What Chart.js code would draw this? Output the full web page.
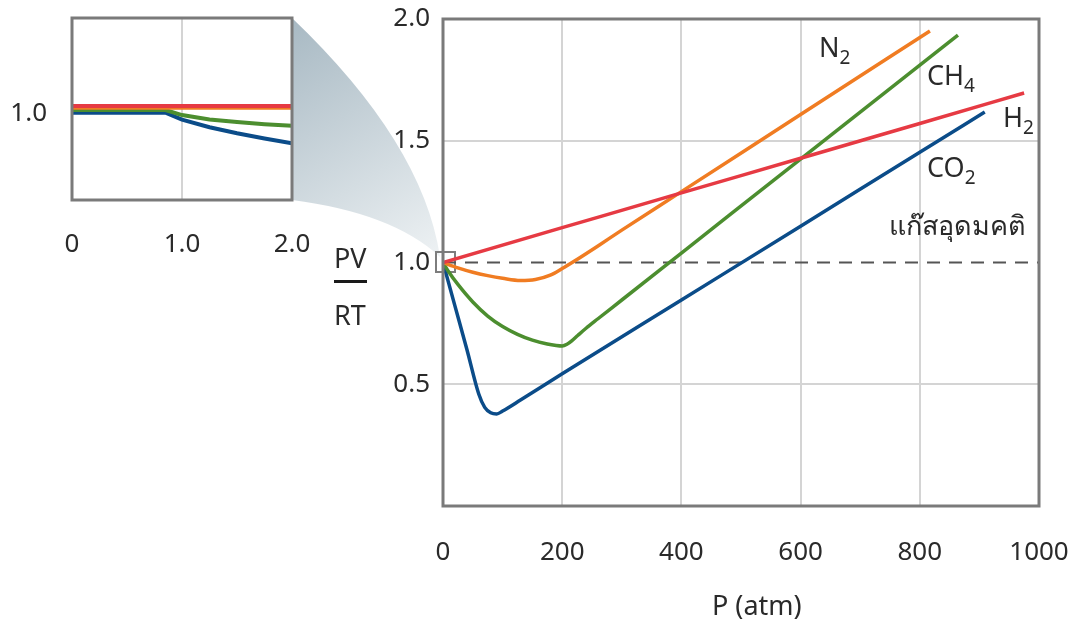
<!DOCTYPE html>
<html>
<head>
<meta charset="utf-8">
<script src="https://cdn.jsdelivr.net/npm/chart.js@4.4.1/dist/chart.umd.min.js"></script>
<style>
  html, body { margin: 0; padding: 0; background: #ffffff; }
  #stage {
    position: relative; width: 1073px; height: 624px; overflow: hidden;
    font-family: "Noto Sans", "DejaVu Sans", sans-serif; color: #2a2a2a;
  }
  #stage canvas, #stage svg { position: absolute; left: 0; top: 0; }
  .lbl { position: absolute; font-size: 27px; line-height: 1; white-space: nowrap; }
  .lbl sub { font-size: 19px; vertical-align: -7px; line-height: 0; }
  #fracbar { position: absolute; left: 334px; top: 280px; width: 33px; height: 3px; background: #1a1a1a; }
  #marker { position: absolute; left: 435px; top: 251px; width: 17px; height: 18px; border: 2px solid #7d7d7d; }
</style>
</head>
<body>
<div id="stage">
  <svg width="1073" height="624">
    <defs>
      <linearGradient id="wedgeFill" x1="300" y1="20" x2="440" y2="258" gradientUnits="userSpaceOnUse">
        <stop offset="0" stop-color="#a9bac4"/>
        <stop offset="1" stop-color="#eef2f4"/>
      </linearGradient>
    </defs>
    <path d="M292,18 Q423,143 440,257 Q393,213 292,200 Z" fill="url(#wedgeFill)"/>
  </svg>
  <div id="marker"></div>
  <canvas id="mainChart" width="1073" height="624"></canvas>
  <canvas id="insetChart" width="320" height="270"></canvas>

  <div class="lbl" style="left:819px;top:33px">N<sub>2</sub></div>
  <div class="lbl" style="left:927px;top:61px">CH<sub>4</sub></div>
  <div class="lbl" style="left:1003px;top:103px">H<sub>2</sub></div>
  <div class="lbl" style="left:927px;top:153px">CO<sub>2</sub></div>
  <div class="lbl" style="left:889px;top:211px">แก๊สอุดมคติ</div>
  <div class="lbl" style="left:334px;top:244px">PV</div>
  <div id="fracbar"></div>
  <div class="lbl" style="left:334px;top:301px">RT</div>
  <div class="lbl" style="left:712px;top:591px">P (atm)</div>
</div>

<script>
// Compressibility factor PV/RT versus pressure (atm)
const h2Pressure  = [0, 200, 400, 600, 800, 975];
const h2Z         = [1.0, 1.143, 1.286, 1.428, 1.571, 1.696];

const n2Pressure  = [0, 25, 50, 75, 100, 130, 155, 180, 200, 220, 260, 300, 400, 600, 817];
const n2Z         = [1.0, 0.978, 0.96, 0.946, 0.935, 0.926, 0.93, 0.948, 0.975, 1.005, 1.068, 1.133, 1.291, 1.608, 1.951];

const ch4Pressure = [0, 10, 25, 50, 75, 100, 125, 150, 175, 190, 200, 208, 216, 226, 240, 260, 300, 400, 602, 864];
const ch4Z        = [1.0, 0.96, 0.91, 0.838, 0.78, 0.737, 0.705, 0.681, 0.665, 0.659, 0.657, 0.664, 0.678, 0.700, 0.730, 0.769, 0.846, 1.039, 1.429, 1.934];

const co2Pressure = [0, 20, 40, 60, 70, 80, 90, 100, 130, 200, 400, 600, 800, 909];
const co2Z        = [1.0, 0.822, 0.644, 0.46, 0.405, 0.383, 0.378, 0.39, 0.435, 0.543, 0.846, 1.149, 1.453, 1.618];

const idealPressure = [0, 1000];
const idealZ        = [1.0, 1.0];

// Low-pressure detail (0–2 atm)
const lowPressure     = [0, 0.85, 1.0, 1.25, 1.5, 1.75, 2.0];
const lowH2Z          = [1.0085, 1.0085, 1.0085, 1.0085, 1.0085, 1.0085, 1.0085];
const lowN2Z          = [1.0065, 1.0065, 1.0065, 1.0065, 1.0065, 1.0065, 1.0065];
const lowCH4Z         = [1.0038, 1.0038, 0.998, 0.993, 0.99, 0.9875, 0.9857];
const lowCO2Z         = [1.0007, 1.0007, 0.9927, 0.984, 0.977, 0.971, 0.9655];

const mainXTicks  = [0, 200, 400, 600, 800, 1000];
const mainYTicks  = [0.5, 1.0, 1.5, 2.0];
const insetXTicks = [0, 1.0, 2.0];
const insetYTicks = [1.0];

const RED = '#e63a43', ORANGE = '#f07c22', GREEN = '#4c8e2f', BLUE = '#0b4c89';
const TEXT = '#2a2a2a', GRID = '#d4d4d4', FRAME = '#7a7a7a', CLEAR = 'rgba(0,0,0,0)';
const FONT = { family: '"Noto Sans", "DejaVu Sans", sans-serif', size: 26 };

const pairUp = (xs, ys) => xs.map((x, i) => ({ x, y: ys[i] }));
const line = (xs, ys, color, width, extra) => Object.assign({
  data: pairUp(xs, ys), borderColor: color, borderWidth: width,
  pointRadius: 0, fill: false, cubicInterpolationMode: 'monotone'
}, extra || {});
const straight = { cubicInterpolationMode: 'default', tension: 0 };

// Fixed axis box sizes, without the extra room Chart.js reserves for edge labels
const fixSize = (prop, size) => s => {
  s[prop] = size;
  s.paddingLeft = 0; s.paddingRight = 0; s.paddingTop = 0; s.paddingBottom = 0;
};

// Outline around the plotting area
const framePlugin = {
  id: 'frame',
  afterDraw(chart) {
    const { left, top, right, bottom } = chart.chartArea;
    const c = chart.ctx;
    c.save();
    c.strokeStyle = FRAME;
    c.lineWidth = 3;
    c.strokeRect(left, top, right - left, bottom - top);
    c.restore();
  }
};

const common = {
  responsive: false, animation: false, events: [],
  plugins: { legend: { display: false }, tooltip: { enabled: false } }
};

new Chart(document.getElementById('mainChart'), {
  type: 'line',
  data: {
    datasets: [
      line(h2Pressure, h2Z, RED, 3.5),
      line(n2Pressure, n2Z, ORANGE, 3.5),
      line(ch4Pressure, ch4Z, GREEN, 3.5),
      line(co2Pressure, co2Z, BLUE, 3.5),
      line(idealPressure, idealZ, '#555555', 2, Object.assign({ borderDash: [13, 9] }, straight))
    ]
  },
  options: Object.assign({}, common, {
    layout: { padding: { left: 0, top: 19, right: 34, bottom: 0 } },
    scales: {
      x: {
        type: 'linear', min: 0, max: 1000,
        afterFit: fixSize('height', 118),
        afterBuildTicks(s) { s.ticks = mainXTicks.map(v => ({ value: v })); },
        ticks: { padding: 31, color: TEXT, font: FONT, maxRotation: 0, callback: v => String(v) },
        grid: { drawTicks: false, lineWidth: 2,
                color: c => (c.tick && (c.tick.value === 0 || c.tick.value === 1000)) ? CLEAR : GRID },
        border: { display: false }
      },
      y: {
        type: 'linear', min: 0, max: 2,
        afterFit: fixSize('width', 443),
        afterBuildTicks(s) { s.ticks = mainYTicks.map(v => ({ value: v })); },
        ticks: { padding: 13, color: TEXT, font: FONT, callback: v => v.toFixed(1) },
        grid: { drawTicks: false, lineWidth: 2,
                color: c => (c.tick && (c.tick.value === 0.5 || c.tick.value === 1.5)) ? GRID : CLEAR },
        border: { display: false }
      }
    }
  }),
  plugins: [framePlugin]
});

new Chart(document.getElementById('insetChart'), {
  type: 'line',
  data: {
    datasets: [
      line(lowPressure, lowH2Z, RED, 4, straight),
      line(lowPressure, lowN2Z, ORANGE, 4, straight),
      line(lowPressure, lowCH4Z, GREEN, 4, straight),
      line(lowPressure, lowCO2Z, BLUE, 4, straight)
    ]
  },
  options: Object.assign({}, common, {
    layout: { padding: { left: 0, top: 18, right: 28, bottom: 0 } },
    scales: {
      x: {
        type: 'linear', min: 0, max: 2,
        afterFit: fixSize('height', 70),
        afterBuildTicks(s) { s.ticks = insetXTicks.map(v => ({ value: v })); },
        ticks: { padding: 29, color: TEXT, font: FONT, maxRotation: 0,
                 callback: v => (v === 0 ? '0' : v.toFixed(1)) },
        grid: { drawTicks: false, lineWidth: 2,
                color: c => (c.tick && c.tick.value === 1) ? GRID : CLEAR },
        border: { display: false }
      },
      y: {
        type: 'linear', min: 0.9, max: 1.11,
        afterFit: fixSize('width', 72),
        afterBuildTicks(s) { s.ticks = insetYTicks.map(v => ({ value: v })); },
        ticks: { padding: 17, color: TEXT, font: FONT, callback: v => v.toFixed(1) },
        grid: { display: false },
        border: { display: false }
      }
    }
  }),
  plugins: [framePlugin]
});
</script>
</body>
</html>
